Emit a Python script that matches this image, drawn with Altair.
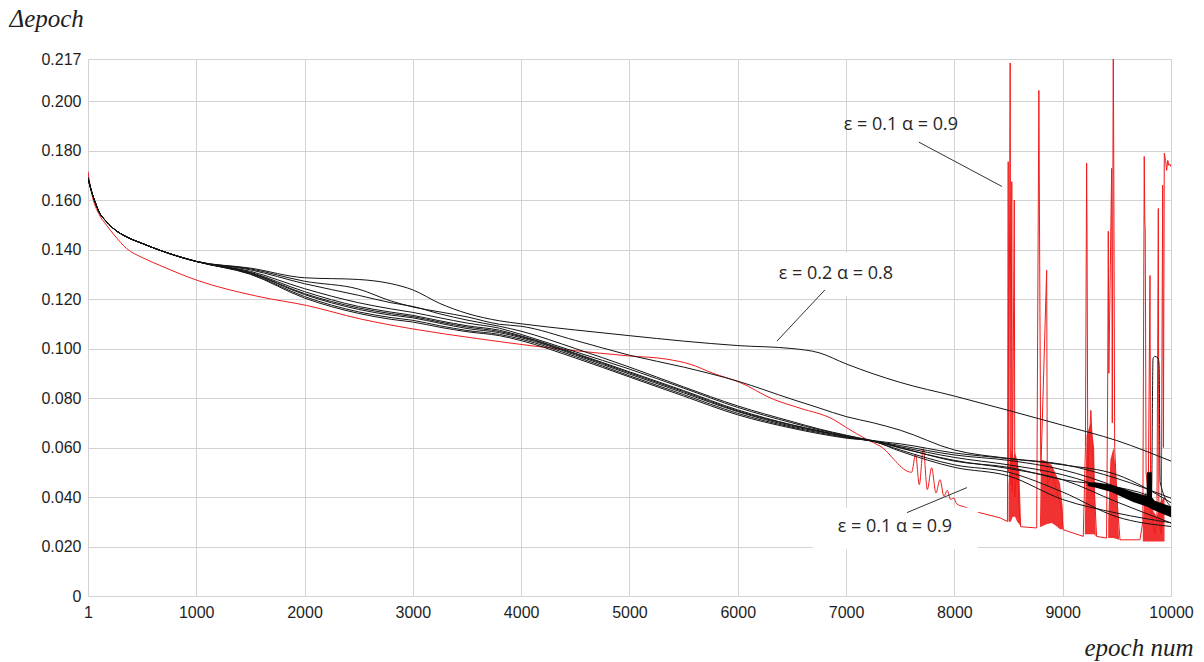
import altair as alt
import pandas as pd

# ---------------- data ----------------
x_ticks = [1, 1000, 2000, 3000, 4000, 5000, 6000, 7000, 8000, 9000, 10000]
y_ticks = [0, 0.02, 0.04, 0.06, 0.08, 0.10, 0.12, 0.14, 0.16, 0.18, 0.20, 0.217]

# black curves: common start
head_x = [1, 30, 60, 100, 173, 250, 358, 500, 665, 1000]
head_y = [0.1690, 0.1640, 0.1600, 0.1555, 0.1512, 0.1480, 0.1451, 0.1425, 0.1397, 0.1352]

tail_x = [1500, 2000, 2500, 2800, 3000, 3250, 3500, 3800, 4000, 4500, 5000, 5500,
          6000, 6500, 6750, 7000, 7250, 7500, 8000, 8500, 9000, 9500, 10000]
b1 = [0.1325, 0.1286, 0.1279, 0.1262, 0.1237, 0.1182, 0.1142, 0.1112, 0.1100, 0.1075, 0.1052, 0.1030,
      0.1012, 0.1000, 0.0983, 0.0938, 0.0898, 0.0863, 0.0808, 0.0750, 0.0690, 0.0628, 0.0545]
b2 = [0.1322, 0.1272, 0.1240, 0.1192, 0.1168, 0.1148, 0.1128, 0.1098, 0.1090, 0.1033, 0.0973, 0.0925,
      0.0868, 0.0795, 0.0760, 0.0725, 0.0700, 0.0670, 0.0590, 0.0556, 0.0532, 0.0475, 0.0395]
b3 = [0.1318, 0.1262, 0.1215, 0.1185, 0.1170, 0.1140, 0.1115, 0.1090, 0.1070, 0.1000, 0.0925, 0.0845,
      0.0768, 0.0705, 0.0675, 0.0650, 0.0628, 0.0615, 0.0578, 0.0555, 0.0530, 0.0490, 0.0377]
b4 = [0.1312, 0.1242, 0.1185, 0.1160, 0.1146, 0.1124, 0.1103, 0.1082, 0.1057, 0.0987, 0.0917, 0.0840,
      0.0762, 0.0700, 0.0672, 0.0648, 0.0627, 0.0608, 0.0570, 0.0548, 0.0510, 0.0440, 0.0342]
b5 = [0.1308, 0.1230, 0.1170, 0.1147, 0.1134, 0.1112, 0.1092, 0.1074, 0.1051, 0.0981, 0.0906, 0.0830,
      0.0752, 0.0692, 0.0668, 0.0645, 0.0626, 0.0603, 0.0560, 0.0530, 0.0490, 0.0420, 0.0329]
b6 = [0.1305, 0.1218, 0.1158, 0.1135, 0.1124, 0.1102, 0.1081, 0.1064, 0.1044, 0.0974, 0.0897, 0.0821,
      0.0745, 0.0686, 0.0664, 0.0643, 0.0626, 0.0598, 0.0548, 0.0515, 0.0470, 0.0380, 0.0295]
b7 = [0.1302, 0.1210, 0.1148, 0.1125, 0.1114, 0.1092, 0.1073, 0.1057, 0.1038, 0.0968, 0.0890, 0.0814,
      0.0738, 0.0682, 0.0660, 0.0640, 0.0625, 0.0590, 0.0530, 0.0500, 0.0420, 0.0320, 0.0281]
b8 = [0.1300, 0.1204, 0.1142, 0.1118, 0.1107, 0.1086, 0.1068, 0.1052, 0.1032, 0.0962, 0.0885, 0.0808,
      0.0732, 0.0678, 0.0656, 0.0638, 0.0625, 0.0585, 0.0520, 0.0485, 0.0390, 0.0335, 0.0296]
# curve with the late jump
b9_x = tail_x[:-1] + [9700, 9820, 9834, 9850, 9880, 9890, 9900, 10000]
b9 = [0.1306, 0.1222, 0.1164, 0.1141, 0.1129, 0.1107, 0.1087, 0.1069, 0.1048, 0.0978, 0.0902, 0.0826,
      0.0748, 0.0690, 0.0666, 0.0644, 0.0626, 0.0600, 0.0545, 0.0520, 0.0470, 0.0440,
      0.0420, 0.0405, 0.0960, 0.0968, 0.0962, 0.0935, 0.0460, 0.0360]

# thick black band near the end
blob_x = [9230, 9300, 9450, 9650, 9775, 9778, 9822, 9825, 9850, 10000]
blob_hi = [0.0458, 0.0460, 0.0450, 0.0420, 0.0405, 0.0500, 0.0500, 0.0398, 0.0385, 0.0362]
blob_lo = [0.0445, 0.0438, 0.0420, 0.0380, 0.0362, 0.0362, 0.0352, 0.0350, 0.0345, 0.0318]

# red curve (smooth part up to 8082, then the spiky part)
red_x = [1, 20, 50, 100, 173, 250, 358, 500, 665, 1000, 1589, 2020, 2512, 3003, 3600, 4100, 4421,
         5000, 5345, 5558, 5772, 6020, 6328, 6575, 6880, 7005, 7190, 7313, 7605, 7642, 7676, 7713,
         7750, 7790, 7830, 7867, 7904, 7934, 7965, 7996, 8020, 8082, 8221, 8421, 8490, 8497, 8502,
         8515, 8522, 8530, 8536, 8553, 8558, 8580, 8600, 8612, 8760, 8780, 8790, 8798, 8852, 8858,
         8900, 8990, 9005, 9190, 9210, 9221, 9225, 9232, 9260, 9290, 9313, 9405, 9415, 9421, 9426,
         9440, 9452, 9458, 9467, 9472, 9480, 9500, 9529, 9713, 9740, 9753, 9758, 9762, 9770, 9790,
         9806, 9812, 9850, 9870, 9883, 9888, 9910, 9923, 9930, 9938, 9950, 9960, 9970, 9980, 9990,
         10000]
red_y = [0.1716, 0.1660, 0.1600, 0.1545, 0.1498, 0.1455, 0.1404, 0.1368, 0.1336, 0.1277, 0.1209,
         0.1174, 0.1120, 0.1079, 0.1040, 0.1011, 0.0995, 0.0970, 0.0957, 0.0937, 0.0900, 0.0863,
         0.0795, 0.0759, 0.0714, 0.0680, 0.0633, 0.0606, 0.0500, 0.0572, 0.0450, 0.0595, 0.0430,
         0.0518, 0.0417, 0.0470, 0.0403, 0.0427, 0.0390, 0.0396, 0.0373, 0.0362, 0.0338, 0.0316,
         0.0301, 0.1755, 0.0500, 0.2154, 0.0450, 0.1674, 0.0420, 0.1600, 0.0400, 0.0550, 0.0340,
         0.0280, 0.0275, 0.2043, 0.1136, 0.0500, 0.1316, 0.0450, 0.0500, 0.0350, 0.0268, 0.0241,
         0.0600, 0.1749, 0.1444, 0.0500, 0.0750, 0.0450, 0.0241, 0.0234, 0.0800, 0.1474, 0.0900,
         0.1336, 0.1728, 0.0700, 0.2300, 0.1700, 0.0600, 0.0400, 0.0227, 0.0227, 0.0300, 0.1776,
         0.1512, 0.1485, 0.0500, 0.0400, 0.1295, 0.0350, 0.0250, 0.0300, 0.1566, 0.0300, 0.0250,
         0.1660, 0.0600, 0.1789, 0.1760, 0.1720, 0.1760, 0.1740, 0.1745, 0.1735]
red_smooth_end = 42   # points [0, 42) are drawn smoothly

# dense red oscillation bands (upper / lower envelope)
band_id = [1] * 7 + [2] * 8 + [3] * 5 + [4] * 5 + [5] * 7
band_x = [8500, 8520, 8540, 8560, 8580, 8600, 8615,
          8790, 8800, 8850, 8900, 8950, 8975, 9000, 9005,
          9205, 9220, 9260, 9290, 9305,
          9420, 9440, 9470, 9500, 9520,
          9740, 9760, 9800, 9840, 9870, 9900, 9940]
band_hi = [0.045, 0.060, 0.055, 0.058, 0.055, 0.050, 0.030,
           0.030, 0.0552, 0.0545, 0.0528, 0.048, 0.0457, 0.036, 0.027,
           0.030, 0.065, 0.070, 0.060, 0.025,
           0.030, 0.055, 0.060, 0.045, 0.023,
           0.030, 0.042, 0.038, 0.034, 0.032, 0.038, 0.040]
band_lo = [0.030, 0.030, 0.032, 0.032, 0.030, 0.029, 0.028,
           0.028, 0.028, 0.029, 0.0295, 0.028, 0.027, 0.027, 0.027,
           0.025, 0.025, 0.025, 0.025, 0.024,
           0.0234, 0.0234, 0.0234, 0.0230, 0.0227,
           0.022, 0.022, 0.022, 0.022, 0.022, 0.022, 0.022]

# annotations
ann_text = ["ε = 0.1 α = 0.9", "ε = 0.2 α = 0.8", "ε = 0.1 α = 0.9"]
ann_x = [7506, 6906, 7451]
ann_y = [0.1903, 0.1302, 0.0280]
lead_x = [7672, 6805, 7562]
lead_y = [0.1834, 0.1237, 0.0337]
lead_x2 = [8439, 6362, 8116]
lead_y2 = [0.1655, 0.1030, 0.0438]
box_x = [6297, 6694]
box_x2 = [7497, 8218]
box_y = [0.1387, 0.0357]
box_y2 = [0.1213, 0.0188]

# ---------------- tables ----------------
rows = []
for name, ys in [("B1", b1), ("B2", b2), ("B3", b3), ("B4", b4), ("B5", b5),
                 ("B6", b6), ("B7", b7), ("B8", b8)]:
    for xv, yv in zip(head_x + tail_x, head_y + ys):
        rows.append({"s": name, "x": xv, "y": yv})
for xv, yv in zip(head_x + b9_x, head_y + b9):
    rows.append({"s": "B9", "x": xv, "y": yv})
black_df = pd.DataFrame(rows)
red_smooth_df = pd.DataFrame({"x": red_x[:red_smooth_end], "y": red_y[:red_smooth_end]})
red_rough_df = pd.DataFrame({"x": red_x[red_smooth_end - 1:], "y": red_y[red_smooth_end - 1:]})
band_df = pd.DataFrame({"b": band_id, "x": band_x, "y": band_hi, "lo": band_lo})
blob_df = pd.DataFrame({"x": blob_x, "y": blob_hi, "lo": blob_lo})
ann_df = pd.DataFrame({"t": ann_text, "x": ann_x, "y": ann_y})
lead_df = pd.DataFrame({"x": lead_x, "y": lead_y, "x2": lead_x2, "y2": lead_y2})
box_df = pd.DataFrame({"x": box_x, "x2": box_x2, "y": box_y, "y2": box_y2})

# ---------------- chart ----------------
XS = alt.Scale(domain=[1, 10000], nice=False, zero=False)
YS = alt.Scale(domain=[0, 0.217], nice=False, zero=False)
GRID = "#d3d3d3"
RED = "#f01c1c"

x_axis = alt.Axis(values=x_ticks, format="d", grid=True, gridColor=GRID, gridWidth=1,
                  ticks=False, domain=False, labelFont="Liberation Sans", labelFontSize=16,
                  labelColor="#1e1e1e", labelPadding=8, labelFlush=False, labelOverlap=False,
                  title="epoch num", titleFont="Liberation Serif", titleFontStyle="italic",
                  titleFontWeight="normal", titleFontSize=25, titleColor="#1e1e1e",
                  titleX=1105, titleY=59, titleAlign="right", titleBaseline="alphabetic")
y_axis = alt.Axis(values=y_ticks,
                  labelExpr="datum.value == 0 ? '0' : format(datum.value, '.3f')",
                  grid=True, gridColor=GRID, gridWidth=1, ticks=False, domain=False,
                  labelFont="Liberation Sans", labelFontSize=16, labelColor="#1e1e1e",
                  labelPadding=7, labelOverlap=False,
                  title="Δepoch", titleAngle=0, titleFont="Liberation Serif",
                  titleFontStyle="italic", titleFontWeight="normal", titleFontSize=25,
                  titleColor="#1e1e1e", titleX=-79, titleY=-33, titleAlign="left",
                  titleBaseline="alphabetic")

X = alt.X("x:Q", scale=XS, axis=x_axis)
Y = alt.Y("y:Q", scale=YS, axis=y_axis)

red_bands = alt.Chart(band_df).mark_area(color=RED, opacity=0.9, clip=True).encode(
    x=X, y=Y, y2="lo:Q", detail="b:N",
)
red_smooth = alt.Chart(red_smooth_df).mark_line(color=RED, strokeWidth=1, clip=True,
                                                interpolate="monotone").encode(x=X, y=Y)
red_rough = alt.Chart(red_rough_df).mark_line(color=RED, strokeWidth=1, clip=True).encode(x=X, y=Y)
black_lines = alt.Chart(black_df).mark_line(color="#141414", strokeWidth=1,
                                            interpolate="monotone", clip=True).encode(
    x=X, y=Y, detail="s:N",
)
blob = alt.Chart(blob_df).mark_area(color="#000000", clip=True).encode(
    x=X, y=Y, y2="lo:Q",
)
boxes = alt.Chart(box_df).mark_rect(color="white").encode(
    x=X, x2="x2:Q", y=Y, y2="y2:Q",
)
leaders = alt.Chart(lead_df).mark_rule(color="#333333", strokeWidth=1).encode(
    x=X, x2="x2:Q", y=Y, y2="y2:Q",
)
labels = alt.Chart(ann_df).mark_text(font="Open Sans", fontSize=18, color="#262626",
                                     align="center", baseline="middle").encode(
    x=X, y=Y, text="t:N",
)

chart = alt.layer(red_bands, red_smooth, red_rough, black_lines, blob, boxes, leaders,
                  labels).properties(
    width=1083, height=537,
    autosize=alt.AutoSizeParams(type="none"),
    padding={"left": 88, "top": 59, "right": 33, "bottom": 66},
    background="white",
).configure_view(stroke=None)

chart.save("out.html", embed_options={"renderer": "svg", "actions": False})
